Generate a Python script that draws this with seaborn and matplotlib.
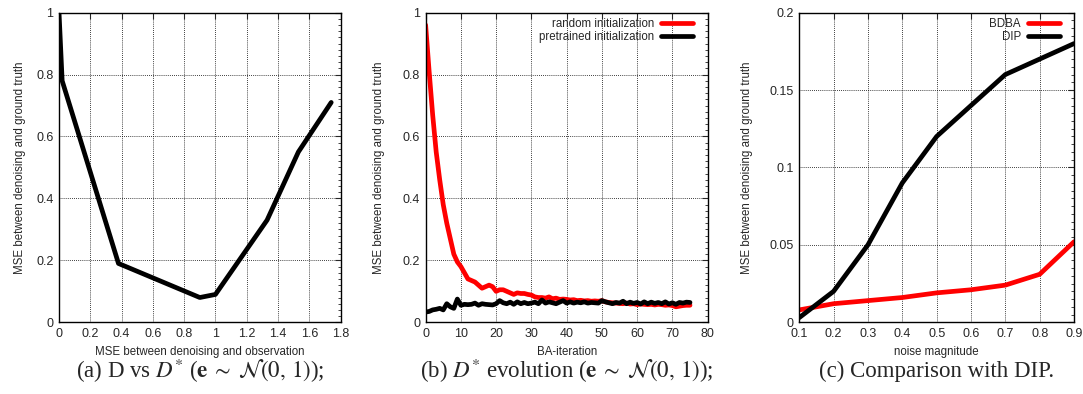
import matplotlib
matplotlib.use("Agg")
import matplotlib.pyplot as plt
import seaborn as sns
from matplotlib.ticker import MultipleLocator, AutoMinorLocator, FormatStrFormatter

# (a) D vs D*
obs_mse = [0.0, 0.02, 0.38, 0.90, 1.00, 1.33, 1.53, 1.74]
gt_mse_a = [1.0, 0.78, 0.19, 0.08, 0.09, 0.33, 0.55, 0.71]

# (b) D* evolution over BA iterations
ba_iter = list(range(76))
random_init = [
    0.96, 0.81, 0.67, 0.55, 0.46, 0.38, 0.32, 0.27, 0.22, 0.195,
    0.18, 0.16, 0.14, 0.135, 0.13, 0.12, 0.11, 0.115, 0.12, 0.115,
    0.10, 0.105, 0.105, 0.10, 0.095, 0.09, 0.095, 0.093, 0.093, 0.09,
    0.088, 0.082, 0.08, 0.08, 0.078, 0.082, 0.076, 0.078, 0.074, 0.075,
    0.074, 0.072, 0.073, 0.07, 0.071, 0.069, 0.07, 0.068, 0.069, 0.068,
    0.07, 0.066, 0.064, 0.063, 0.062, 0.061, 0.06, 0.062, 0.059, 0.06,
    0.057, 0.059, 0.058, 0.057, 0.058, 0.056, 0.058, 0.057, 0.055, 0.056,
    0.054, 0.05, 0.052, 0.054, 0.055, 0.055,
]
pretrained_init = [
    0.033, 0.035, 0.04, 0.042, 0.045, 0.04, 0.06, 0.05, 0.045, 0.075,
    0.055, 0.058, 0.057, 0.058, 0.062, 0.055, 0.06, 0.058, 0.057, 0.056,
    0.06, 0.07, 0.063, 0.06, 0.065, 0.058, 0.066, 0.06, 0.064, 0.06,
    0.062, 0.065, 0.06, 0.072, 0.062, 0.066, 0.063, 0.06, 0.065, 0.07,
    0.062, 0.066, 0.062, 0.065, 0.063, 0.066, 0.062, 0.064, 0.063, 0.062,
    0.07, 0.066, 0.063, 0.06, 0.064, 0.062, 0.068, 0.06, 0.065, 0.061,
    0.064, 0.059, 0.066, 0.06, 0.065, 0.061, 0.064, 0.06, 0.066, 0.059,
    0.063, 0.058, 0.064, 0.062, 0.065, 0.064,
]

# (c) comparison with DIP
noise = [0.1, 0.2, 0.3, 0.4, 0.5, 0.6, 0.7, 0.8, 0.9]
bdba = [0.008, 0.012, 0.014, 0.016, 0.019, 0.021, 0.024, 0.031, 0.052]
dip = [0.003, 0.02, 0.05, 0.09, 0.12, 0.14, 0.16, 0.17, 0.18]

ylab = "MSE between denoising and ground truth"
captions = [
    r"(a) D vs $D^{*}$ ($\mathbf{e}\;\sim\;\mathcal{N}(0,\,1)$);",
    r"(b) $D^{*}$ evolution ($\mathbf{e}\;\sim\;\mathcal{N}(0,\,1)$);",
    r"(c) Comparison with DIP.",
]

LABEL_FS = 8.3


def style_axes(ax, xlim, ylim, xstep, ystep):
    ax.set_xlim(*xlim)
    ax.set_ylim(*ylim)
    ax.xaxis.set_major_locator(MultipleLocator(xstep))
    ax.yaxis.set_major_locator(MultipleLocator(ystep))
    ax.xaxis.set_major_formatter(FormatStrFormatter("%g"))
    ax.yaxis.set_major_formatter(FormatStrFormatter("%g"))
    ax.yaxis.set_minor_locator(AutoMinorLocator(10))
    ax.tick_params(which="both", direction="in", top=True, right=True,
                   labelsize=9, pad=4)
    ax.tick_params(which="major", length=4, width=0.8)
    ax.tick_params(which="minor", length=2, width=0.6)
    ax.grid(True, which="major", linestyle=(0, (1, 1.5)), color="black",
            linewidth=0.6)
    for s in ax.spines.values():
        s.set_linewidth(1.0)
        s.set_color("black")
    ax.set_ylabel(ylab, fontsize=LABEL_FS)


def main():
    sns.set_style("white")
    plt.rcParams["font.family"] = ["Liberation Sans", "DejaVu Sans"]
    plt.rcParams["mathtext.fontset"] = "stix"

    fig = plt.figure(figsize=(10.83, 3.94), dpi=100)
    ax_a = fig.add_axes([0.0545, 0.182, 0.260, 0.786])
    ax_b = fig.add_axes([0.393, 0.182, 0.2604, 0.786])
    ax_c = fig.add_axes([0.738, 0.182, 0.2537, 0.786])

    lw = 3.4

    sns.lineplot(x=obs_mse, y=gt_mse_a, ax=ax_a, color="black", lw=lw,
                 sort=False)
    style_axes(ax_a, (0, 1.8), (0, 1), 0.2, 0.2)
    ax_a.set_xlabel("MSE between denoising and observation", fontsize=LABEL_FS)

    sns.lineplot(x=ba_iter, y=random_init, ax=ax_b, color="#ff0000", lw=lw,
                 label="random initialization")
    sns.lineplot(x=ba_iter, y=pretrained_init, ax=ax_b, color="black", lw=lw,
                 label="pretrained initialization")
    style_axes(ax_b, (0, 80), (0, 1), 10, 0.2)
    ax_b.set_xlabel("BA-iteration", fontsize=LABEL_FS)

    sns.lineplot(x=noise, y=bdba, ax=ax_c, color="#ff0000", lw=lw,
                 label="BDBA")
    sns.lineplot(x=noise, y=dip, ax=ax_c, color="black", lw=lw, label="DIP")
    style_axes(ax_c, (0.1, 0.9), (0, 0.2), 0.1, 0.05)
    ax_c.set_xlabel("noise magnitude", fontsize=LABEL_FS)

    for ax, anchor_x in ((ax_b, 0.948), (ax_c, 0.949)):
        ax.legend(loc="upper right", bbox_to_anchor=(anchor_x, 0.982),
                  markerfirst=False, frameon=False, fontsize=LABEL_FS,
                  handlelength=2.8, handletextpad=0.6, labelspacing=0.05,
                  borderaxespad=0.0, borderpad=0.0)

    for ax, off in ((ax_a, -0.119), (ax_b, -0.143), (ax_c, -0.170)):
        ax.yaxis.set_label_coords(off, 0.5)
        ax.xaxis.set_label_coords(0.5, -0.0775)

    for ax, cap in zip((ax_a, ax_b, ax_c), captions):
        pos = ax.get_position()
        fig.text(pos.x0 + pos.width / 2, 0.058, cap, ha="center", va="center",
                 fontsize=16.5, family="Liberation Serif")

    fig.savefig("out.png", dpi=100)


if __name__ == "__main__":
    main()
